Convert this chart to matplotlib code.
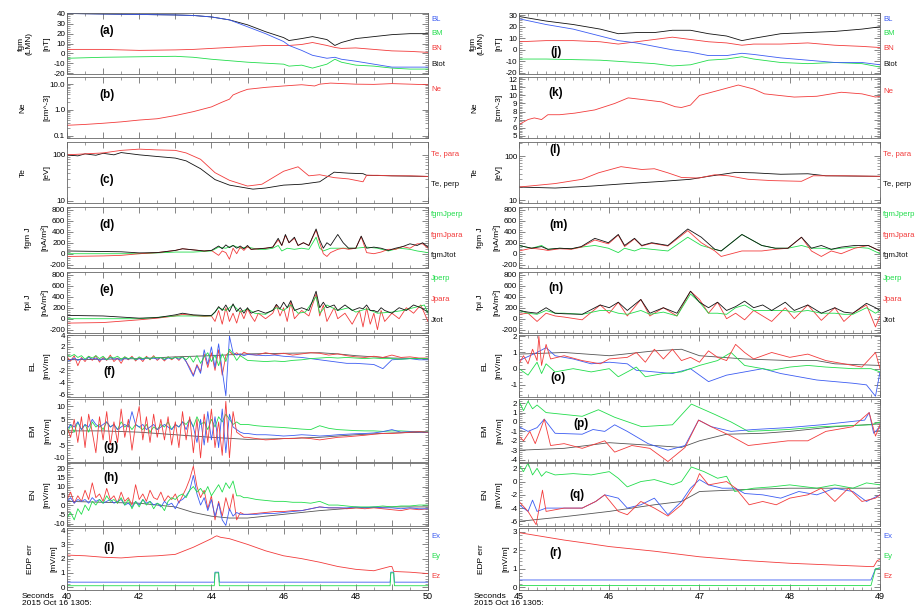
import numpy as np
import matplotlib
matplotlib.use('Agg')
import matplotlib.pyplot as plt
from matplotlib.ticker import MultipleLocator, AutoMinorLocator, NullFormatter, FuncFormatter

plt.rcParams['font.family'] = ['Liberation Sans', 'DejaVu Sans']

BLUE, GREEN, RED, BLACK = '#3c5cf2', '#22dd4c', '#f23b3b', '#111111'

# ---------------- left column: 13:05:40 - 13:05:50 ----------------
a_t = [40, 41, 42, 43, 43.5, 44, 44.5, 45, 45.5, 46, 46.15, 46.5, 46.8, 47.2, 47.42, 47.6, 48, 48.5, 49, 49.5, 50]
a_BL = [40.5, 40, 39.5, 39, 38.5, 37, 34, 27, 20, 12, 8, 3, -2, -5, -4, -6, -8, -11, -14, -14, -14]
a_BM = [-5, -4, -3.5, -3, -4, -6, -7.5, -9, -10, -11, -13, -12, -15, -11, -6, -9, -12, -13, -15, -16, -16]
a_BN = [4, 4, 3, 3.5, 4, 5, 6, 7, 8, 8, 8, 9, 11, 8, 6, 5, 5.5, 4, 2.5, 2, 1]
a_Bt = [40.5, 40, 39.5, 39, 38.5, 37, 34, 29, 22, 16, 13, 15, 17, 14, 8, 11, 15, 17, 19, 20, 20]

b_t = [40, 40.5, 41, 41.5, 42, 42.5, 43, 43.5, 44, 44.3, 44.5, 44.6, 44.8, 45, 45.5, 46, 46.5, 46.86, 47.0, 47.3, 48, 48.5, 49, 49.5, 50]
b_Ne = [0.25, 0.27, 0.3, 0.34, 0.4, 0.45, 0.6, 0.85, 1.3, 2.0, 2.6, 3.8, 5.0, 6.3, 7.5, 8.5, 9.5, 8.5, 10.0, 11.0, 10.0, 9.8, 10.5, 10.0, 9.5]

c_tpa = [40, 40.5, 41, 41.5, 42, 42.5, 43, 43.3, 43.7, 44.1, 44.5, 45, 45.4, 46, 46.4, 46.7, 47, 47.4, 47.8, 48.2, 48.3, 48.6, 49, 49.5, 50]
c_para = [100, 105, 110, 125, 133, 128, 125, 110, 80, 41, 28, 21, 23, 44, 55, 35, 37, 32, 30, 26, 36, 36, 35, 35, 34]
c_tpe = [40, 40.3, 40.5, 40.8, 41, 41.3, 41.5, 42, 42.5, 43, 43.3, 43.7, 44.1, 44.5, 45.15, 45.5, 46, 46.5, 47, 47.4, 47.8, 48.2, 48.3, 49, 50]
c_perp = [100, 95, 105, 98, 108, 100, 112, 100, 92, 85, 74, 50, 29, 22, 18, 19, 22, 23, 26, 42, 40, 39, 36, 35, 34]

d_t = [40, 40.5, 41, 41.5, 42, 42.5, 43, 43.2, 43.5, 43.8, 44, 44.2, 44.3, 44.4, 44.5, 44.6, 44.7, 44.8, 44.9, 45,
       45.1, 45.3, 45.5, 45.7, 45.85, 45.95, 46.05, 46.15, 46.3, 46.4, 46.55, 46.7, 46.9, 47.0, 47.1, 47.2, 47.3, 47.5,
       47.65, 47.8, 48.0, 48.15, 48.3, 48.5, 48.7, 48.9, 49.1, 49.3, 49.5, 49.7, 49.85, 50]
d_tot = [50, 45, 40, 35, 15, 20, 60, 90, 70, 50, 60, 140, 90, 160, 110, 150, 100, 140, 90, 150,
         80, 90, 100, 120, 280, 150, 350, 200, 300, 150, 200, 150, 450, 250, 100, 200, 150, 350,
         200, 100, 100, 320, 100, 120, 100, 60, 100, 130, 180, 150, 200, 120]
d_para = [-50, -45, -40, -30, 0, 20, 60, 90, 70, 50, 60, -30, 50, 20, -100, 100, 0, 120, 60, 130,
          80, 90, 100, 120, 250, 150, 330, 200, 280, 150, 200, 150, 430, 200, 0, -50, 20, 80,
          100, 80, 100, 310, 20, 0, 30, 80, 80, 130, 100, 180, 180, 100]
d_tpe = [40, 41, 42, 43, 43.5, 44, 44.2, 44.4, 44.6, 44.8, 45, 45.3, 45.5, 45.7, 45.85, 45.95, 46.1, 46.3, 46.5, 46.7,
         46.9, 47.0, 47.1, 47.3, 47.5, 47.8, 48.0, 48.3, 48.6, 48.9, 49.2, 49.5, 49.7, 50]
d_perp = [0, 0, 0, 30, 30, 50, 120, 100, 150, 100, 120, 80, 80, 100, 150, 50, 100, 80, 100, 80,
          300, 100, 50, 100, 100, 100, 100, 120, 100, 50, 100, 80, 50, 20]

e_t = [40, 41, 42, 42.5, 43, 43.2, 43.5, 43.8, 44, 44.1, 44.2, 44.3, 44.4, 44.5, 44.6, 44.7, 44.8, 44.9, 45.0, 45.1,
       45.2, 45.3, 45.5, 45.7, 45.8, 45.9, 46.0, 46.1, 46.2, 46.3, 46.5, 46.7, 46.9, 47.0, 47.1, 47.2, 47.4, 47.5,
       47.7, 47.9, 48.1, 48.2, 48.3, 48.4, 48.5, 48.6, 48.7, 48.8, 49.0, 49.2, 49.4, 49.6, 49.8, 50]
e_tot = [60, 50, 10, 20, 70, 100, 70, 60, 60, 120, 220, 150, 250, 130, 270, 130, 200, 100, 200, 100,
         130, 150, 100, 150, 260, 180, 300, 200, 330, 150, 200, 150, 500, 200, 300, 200, 250, 150,
         250, 150, 200, 180, 250, 150, 150, 120, 200, 150, 100, 200, 150, 250, 200, 120]
e_para = [-80, -70, -20, 10, 50, 80, 60, 40, 50, -50, 150, -100, 200, -50, 100, -80, 150, 0, 180, 50,
          -50, 100, 0, 100, 250, 50, 200, -50, 300, 0, 150, 50, 450, 50, 250, -50, 200, 0,
          100, -100, 150, -150, 200, -100, 100, -200, 150, -50, 100, 0, 200, 100, 250, -50]
e_tpe = [40, 41, 42, 43, 43.5, 44, 44.2, 44.4, 44.6, 44.8, 45.0, 45.2, 45.5, 45.8, 46.0, 46.2, 46.4, 46.6, 46.9, 47.0,
         47.2, 47.5, 47.8, 48.0, 48.3, 48.6, 49.0, 49.3, 49.6, 49.9, 50]
e_perp = [0, 0, 0, 50, 50, 50, 200, 150, 250, 120, 180, 100, 80, 200, 150, 250, 100, 120, 400, 100,
          250, 150, 200, 120, 180, 100, 120, 150, 200, 250, 100]

# fast grid 40.0-44.9 (0.1 s) then 45-50 (0.25 s)
fgh_t = np.concatenate([np.linspace(40, 44.9, 50), np.linspace(45, 50, 21)])
f_red = [0.3, -0.4, 0.5, -1.2, 0.2, -0.5, 0.4, -0.3, 0.5, -0.6,
         0.2, -0.3, 0.6, -0.5, 0.1, -0.8, 0.3, -0.2, 0.4, -0.4,
         0.2, -0.5, 0.4, -0.2, 0.5, -0.3, 0.2, -0.4, 0.3, -0.2,
         0.3, -0.3, 0.4, -0.5, -1.5, -2.8, -1.0, -2.2, 0.8, -1.5,
         1.0, -2.0, 1.5, -2.8, 0.5, 1.2, 0.6, 1.0, 0.5, 1.1,
         0.8, 0.6, 1.0, 0.7, 0.9, 0.6, 0.8, 1.0, 0.9, 0.6, 0.8, 0.5, 0.3, 0.2, 0.4, 0.2, 0.6, 0.2, 0.3, 0.1, 0.1]
f_blue = [-0.5, -0.2, 0.1, -0.3, 0.0, -0.2, 0.2, -0.1, 0.1, -0.3,
          0.0, -0.2, 0.2, -0.1, 0.0, -0.3, 0.1, -0.1, 0.2, -0.2,
          0.0, -0.2, 0.2, 0.0, 0.1, -0.1, 0.2, -0.2, 0.1, 0.0,
          0.2, -0.1, 0.3, -0.5, -1.8, -3.0, -1.2, -2.5, 1.5, -1.0,
          2.0, -1.5, 2.5, -2.0, -6.3, 3.8, 1.0, 0.6, 0.8, 0.5,
          0.7, 0.6, 0.5, 0.6, 0.4, 0.3, 0.2, 0.0, -0.2, -0.4, -0.6, -0.8, -0.8, -0.9, -1.0, -1.7, -0.2, -0.1, 0.0, -0.2, -0.2]
f_green = [0.6, 0.4, 0.7, 0.2, 0.5, -0.1, 0.4, 0.1, 0.5, 0.0,
           0.4, -0.2, 0.3, 0.1, 0.4, -0.1, 0.3, 0.0, 0.2, -0.2,
           0.3, 0.0, 0.2, -0.1, 0.3, 0.1, 0.2, -0.1, 0.3, 0.0,
           0.2, 0.1, 0.3, -0.2, 0.4, -0.6, 0.5, -0.8, 0.3, 1.0,
           -0.5, 0.6, -1.2, 0.8, -0.5, 1.6, 0.8, -0.3, 0.5, 0.1,
           -0.3, -0.4, -0.5, -0.4, -0.5, -0.3, -0.2, 0.0, 0.1, 0.2, 0.1, 0.2, 0.1, 0.0, 0.1, 0.0, 0.0, -0.1, 0.0, 0.0, 0.0]
f_tk = [40, 41, 42, 43, 44, 45, 46, 47, 47.5, 48, 49, 50]
f_black = [-0.2, -0.1, 0.0, 0.3, 0.5, 0.8, 0.9, 1.0, 0.8, 0.5, 0.1, 0.0]

g_red = [2, -2, 5, -4, 6, -6, 7, 0, -8, 6,
         -3, 8, -5, 4, -4, 9, -2, 5, -7, 3,
         10, -3, 6, -4, 7, -2, 5, -3, 6, -5,
         4, -6, 8, -3, 6, -8, 5, -10, 7, -4,
         9, -6, 4, -9, 12, -10, 8, 0, -1, -2,
         -2, -2.5, -3, -2.8, -2.5, -2.5, -2.2, -2.5, -3, -2.5, -2.0, -1.8, -1.5, -1.2, -0.8, -0.5, -0.5, -0.3, 0, 0.2, 0]
g_blue = [1, 3, 2, 4, 1, 3, 2, 5, 3, 2,
          3, 4, 2, 3, 1, 2, 3, 2, 8, 3,
          2, 3, 1, 2, 3, 1, 2, 3, 2, 1,
          3, 2, 4, 1, 5, 2, -4, 5, -5, 8,
          -3, 6, -6, 9, -8, 7, 2, 1, 0, -0.5,
          -0.5, -1, -1, -1.2, -1.5, -1.3, -1.0, -1.2, -1.5, -1.3, -1.0, -0.8, -0.6, -0.5, -0.3, 0.2, 1.0, 0.0, 0.2, 0.1, 0]
g_green = [-1, 3, 0, 4, 1, 3, 0, 4, 2, 3,
           1, 4, 2, 3, 1, 4, 2, 3, 1, 3,
           2, 1, 3, 0, 2, 1, 3, 2, 4, 1,
           3, 2, 4, 3, 5, 2, 6, 3, 4, 1,
           5, 2, 6, 4, 7, 5, 3, 4, 3, 3,
           3, 2.5, 2.2, 2.0, 1.8, 1.5, 1.2, 1.0, 2.5, 1.5, 1.0, 0.8, 0.6, 0.5, 0.5, 0.3, 0.5, 0.5, 0.3, 0.3, 0.2]
g_tk = [40, 41, 42, 43, 44, 45, 46, 47, 48, 49, 50]
g_black = [0.5, 0.5, 0, -1, -2, -2.8, -2.5, -2.0, -1.0, -0.3, 0]

h_red = [3, 7, 1, 5, 2, 8, 3, 12, 4, 6,
         2, 9, 3, 5, 1, 7, 2, 4, 0, 11,
         3, 6, 2, 8, 4, 3, 7, 2, 5, 3,
         6, 1, 5, 9, 14, 21, 10, 4, 8, -2,
         5, -8, 2, -6, 4, -3, 6, -8, -4, -5,
         -5, -4.5, -4, -3.5, -3.5, -3, -3, -2, -1, -1.5, -1.5, -2, -1.5, -2, -1.5, -2, -2.5, -3, -2, -2.5, -2]
h_blue = [2, 4, 1, 3, 2, 3, 1, 4, 2, 3,
          1, 2, 3, 1, 2, 3, 0, 1, -1, 2,
          0, 3, 1, 2, 0, 1, -1, 2, 0, 1,
          -2, 2, 3, 5, 8, 16, 6, 0, 4, -3,
          3, -6, 1, -8, -11, -2, -6, -4, -5, -5,
          -5, -5, -4.5, -4.5, -4, -3.5, -3, -2, -1, -1.5, -1.5, -1.5, -1, -1.5, -1, -1.5, -1.5, -2, -1.5, -2, -2]
h_green = [-7, -4, -8, -2, -5, 0, -3, 2, 0, 3,
           1, 5, 2, 3, 1, 4, 0, 3, -2, 2,
           -1, 3, 0, 2, -2, 1, 0, -3, 2, 4,
           3, 5, 6, 4, 8, 10, 7, 9, 6, 10,
           5, 8, 11, 7, 12, 9, 13, 5, 5, 4,
           4, 3, 2.5, 2, 2, 1.5, 1.5, 1, 2, 0, 0, -0.5, -1, -1, -1, -0.5, -1, -0.5, -0.5, 0, 0]
h_tk = [40, 41, 42, 42.5, 43, 43.5, 44, 44.5, 45, 46, 47, 48, 49, 50]
h_black = [2, 1.5, 1, 0, -1, -4, -6, -7, -7, -5, -3, -1.5, -1, -1]

i_t = [40, 40.5, 41, 41.5, 42, 42.5, 43, 43.5, 44, 44.1, 44.15, 44.25, 44.5, 45, 45.5, 46, 46.5, 47, 47.5, 48, 48.5,
       48.95, 49.0, 49.05, 49.5, 50]
i_Ez = [2.25, 2.2, 2.1, 2.05, 2.15, 2.2, 2.3, 2.8, 3.4, 3.55, 3.6, 3.5, 3.4, 3.0, 2.55, 2.2, 2.0, 1.75, 1.45, 1.25,
        1.15, 1.45, 1.45, 1.1, 1.05, 0.95]
i_tp = [40, 44.08, 44.1, 44.2, 44.22, 48.95, 48.97, 49.05, 49.07, 50]
i_Ex = [0.35, 0.35, 1.05, 1.05, 0.35, 0.35, 1.05, 1.05, 0.35, 0.35]
i_Ey = [0.1, 0.1, 1.0, 1.0, 0.1, 0.1, 1.0, 1.0, 0.1, 0.1]

# ---------------- right column: 13:05:45 - 13:05:49 ----------------
j_t = [45, 45.3, 45.6, 45.9, 46.1, 46.3, 46.5, 46.7, 46.9, 47.1, 47.3, 47.47, 47.6, 47.9, 48.2, 48.5, 48.8, 49]
j_BL = [27, 22, 18, 12, 8, 6, 3, 0, -2, -5, -5, -3, -4, -7, -9, -11, -11, -13]
j_BM = [-8, -8, -8.5, -9, -10, -11, -12, -14, -13, -9, -8, -6, -8, -11, -12, -11, -12, -15]
j_BN = [7, 8, 8, 7, 5, 7, 9, 11, 9, 7, 6, 4, 5, 5, 6, 4, 3, 2]
j_Bt = [29, 25, 22, 18, 14, 15, 15, 17, 17, 14, 12, 8, 10, 14, 15, 16, 18, 20]

k_t = [45, 45.02, 45.1, 45.17, 45.25, 45.32, 45.45, 45.62, 45.84, 46.06, 46.21, 46.36, 46.58, 46.73, 46.8, 46.9, 47.0,
       47.2, 47.43, 47.6, 47.72, 48.05, 48.3, 48.57, 48.8, 48.95, 49]
k_Ne = [6.3, 6.5, 7.0, 7.2, 7.0, 7.6, 7.6, 7.8, 8.2, 9.0, 9.7, 9.5, 9.2, 8.6, 8.5, 8.8, 10.0,
        10.6, 11.3, 10.8, 10.2, 9.8, 9.9, 10.4, 10.2, 9.8, 9.9]

l_tpa = [45, 45.4, 45.7, 45.88, 46.13, 46.36, 46.5, 46.65, 46.8, 46.99, 47.17, 47.32, 47.54, 47.8, 48.13, 48.26, 48.6, 49]
l_para = [20, 24, 30, 42, 58, 50, 52, 42, 33, 32, 38, 36, 30, 28, 27, 36, 36, 35]
l_tpe = [45, 45.4, 45.8, 46.2, 46.6, 46.9, 47.1, 47.4, 47.6, 47.9, 48.2, 48.4, 49]
l_perp = [20, 19, 21, 24, 27, 30, 35, 43, 42, 39, 40, 36, 35]

m_t = [45, 45.14, 45.25, 45.32, 45.45, 45.58, 45.69, 45.84, 45.99, 46.1, 46.17, 46.28, 46.36, 46.47, 46.65, 46.87,
       47.02, 47.17, 47.24, 47.47, 47.69, 47.84, 47.98, 48.13, 48.24, 48.35, 48.46, 48.57, 48.72, 48.87, 49]
m_tot = [150, 100, 130, 80, 100, 90, 130, 280, 200, 350, 150, 280, 150, 200, 150, 450,
         300, 80, 50, 350, 150, 100, 100, 300, 100, 150, 80, 120, 150, 150, 50]
m_para = [50, 100, 80, 60, 90, 80, 120, 250, 180, 340, 130, 270, 140, 190, 140, 420,
          200, 50, -50, 50, 50, 80, 100, 300, 50, -50, 50, 0, 100, 150, 50]
m_perp = [150, 100, 150, 80, 100, 90, 120, 150, 100, 20, 100, 50, 100, 80, 50, 300,
          150, 80, 50, 350, 150, 100, 100, 150, 100, 100, 80, 100, 120, 100, 0]

n_t = [45, 45.1, 45.2, 45.3, 45.4, 45.5, 45.7, 45.9, 46.0, 46.1, 46.2, 46.35, 46.45, 46.6, 46.75, 46.9, 47.0, 47.1,
       47.2, 47.3, 47.4, 47.5, 47.6, 47.7, 47.8, 47.95, 48.05, 48.2, 48.35, 48.5, 48.6, 48.7, 48.85, 48.95, 49]
n_tot = [150, 120, 100, 200, 100, 90, 80, 250, 200, 300, 150, 350, 100, 200, 100, 500, 300, 200,
         300, 150, 220, 320, 200, 250, 150, 300, 150, 250, 100, 200, 120, 100, 280, 200, 150]
n_para = [80, 100, -50, 100, 50, 30, -20, 250, 100, 300, 50, 350, 50, 200, 50, 500, 350, 100,
          300, 0, 100, -20, 150, 50, -50, 200, 0, 250, -30, 200, -50, 100, 250, -150, 50]
n_perp = [150, 100, 80, 150, 100, 100, 80, 150, 150, 100, 80, 150, 80, 120, 50, 450, 300, 100,
          100, 80, 200, 250, 150, 150, 150, 150, 120, 150, 100, 100, 80, 80, 200, 100, 150]

o_tb = [45, 45.2, 45.3, 45.4, 45.6, 45.8, 46, 46.2, 46.3, 46.5, 46.7, 46.9, 47.1, 47.3, 47.5, 47.7, 47.9, 48.1, 48.3,
        48.5, 48.7, 48.85, 48.95, 49]
o_blue = [0.5, 1.0, 1.3, 0.8, 0.6, 0.3, 0.4, 0.3, -0.1, -0.2, -0.3, 0.0, -0.8, -0.4, -0.2, 0.0, -0.3, -0.5, -0.7,
          -0.8, -0.9, -1.0, -1.7, -0.2]
o_tr = [45, 45.05, 45.1, 45.15, 45.2, 45.22, 45.25, 45.3, 45.35, 45.5, 45.7, 45.9, 46.0, 46.2, 46.3, 46.4, 46.5, 46.6,
        46.7, 46.8, 46.9, 47.0, 47.1, 47.2, 47.3, 47.4, 47.5, 47.6, 47.8, 48, 48.2, 48.4, 48.6, 48.8, 48.95, 49]
o_red = [0.3, 0.8, 0.3, 1.2, 0.5, 2.0, 0.2, 1.5, 0.6, 0.8, 0.5, 0.3, 0.6, 0.7, 1.0, 0.4, 1.2, 0.6,
         1.2, 0.5, 0.7, 0.4, 1.1, 0.7, 0.5, 1.5, 1.0, 0.6, 1.0, 0.7, 0.9, 0.5, 0.3, 0.1, 1.0, 0.0]
o_tg = [45, 45.1, 45.2, 45.25, 45.3, 45.4, 45.6, 45.8, 46, 46.1, 46.3, 46.4, 46.6, 46.8, 47.0, 47.2, 47.35, 47.5,
        47.8, 48, 48.2, 48.4, 48.7, 48.9, 49]
o_green = [0.0, -0.4, 0.4, -0.3, 0.3, -0.2, 0.0, -0.2, 0.0, -0.5, 0.1, -0.5, -0.3, -0.2, 0.2, 0.5, 1.0, 0.2,
           -0.1, 0.1, 0.2, 0.1, 0.0, 0.0, -0.2]
o_tk = [45, 45.5, 46, 46.5, 46.8, 47, 47.5, 48, 48.3, 48.5, 49]
o_black = [0.9, 1.0, 0.8, 1.1, 1.2, 0.8, 0.6, 0.5, 0.5, 0.3, 0.2]

p_tg = [45, 45.05, 45.1, 45.15, 45.2, 45.3, 45.5, 45.7, 45.88, 46.06, 46.36, 46.7, 46.91, 47.17, 47.35, 47.54, 47.98,
        48.35, 48.9, 49]
p_green = [2.2, 1.2, 2.2, 1.4, 1.8, 1.0, 0.8, 0.6, 1.3, 0.5, -0.5, -0.3, 1.9, 0.8, 0.0, -1.0, -0.8, -0.5, -0.3, 0.0]
p_tb = [45, 45.1, 45.2, 45.28, 45.4, 45.7, 45.82, 45.95, 46.06, 46.2, 46.43, 46.65, 46.84, 46.99, 47.13, 47.35, 47.6,
        47.98, 48.35, 48.83, 48.88, 48.93, 49]
p_blue = [-0.5, -1.0, -0.6, 0.3, -1.2, -1.3, -0.8, -1.0, -0.3, -1.0, -2.3, -3.0, -2.5, 0.2, -0.5, -1.0, -0.8,
          -0.6, -0.3, 0.2, 1.0, -1.2, -0.5]
p_tr = [45, 45.05, 45.12, 45.18, 45.28, 45.35, 45.5, 45.7, 45.95, 46.06, 46.25, 46.45, 46.65, 46.84, 46.99, 47.13,
        47.35, 47.54, 47.98, 48.2, 48.4, 48.7, 48.88, 48.95, 49]
p_red = [-1.5, -2.0, -1.0, -2.3, 0.3, -2.5, -2.3, -2.8, -2.0, -3.2, -2.5, -2.8, -4.2, -2.7, 0.2, -0.5,
         -1.5, -2.5, -2.0, -2.0, -1.0, -0.5, 1.0, -1.5, -0.3]
p_tk = [45, 45.5, 46, 46.5, 46.8, 47.0, 47.3, 47.7, 48, 48.5, 49]
p_black = [-3.0, -2.8, -2.2, -2.5, -2.7, -2.0, -1.3, -1.2, -1.0, -0.5, -0.2]

q_tg = [45, 45.05, 45.1, 45.15, 45.2, 45.25, 45.3, 45.4, 45.6, 45.8, 46.0, 46.1, 46.2, 46.35, 46.5, 46.7, 46.8,
        46.91, 47.05, 47.2, 47.3, 47.39, 47.6, 47.8, 48.0, 48.3, 48.5, 48.7, 48.85, 49]
q_green = [2.5, 1.5, 2.8, 1.0, 2.0, 0.8, 1.5, 1.0, 1.2, 1.0, 1.5, 0.5, -0.8, 0.0, 0.3, -0.5, 0.0,
           2.2, 1.5, 0.5, 0.8, -1.5, -1.0, -0.8, -0.5, -1.0, -0.5, -1.0, -0.2, -0.5]
q_tb = [45, 45.1, 45.15, 45.2, 45.3, 45.5, 45.7, 45.85, 45.95, 46.1, 46.2, 46.35, 46.5, 46.65, 46.8, 46.9, 47.0,
        47.1, 47.25, 47.4, 47.5, 47.7, 47.9, 48.1, 48.3, 48.5, 48.7, 48.85, 49]
q_blue = [-3.5, -4.5, -2.8, -4.5, -4.0, -4.0, -4.0, -3.0, -2.0, -2.5, -4.0, -3.5, -2.5, -5.0, -3.0, -1.0, 0.3,
          -0.5, -1.0, -1.0, -1.8, -2.0, -2.5, -1.5, -2.0, -1.0, -1.5, -3.0, -2.0]
q_tr = [45, 45.1, 45.19, 45.26, 45.3, 45.5, 45.7, 45.85, 45.95, 46.1, 46.2, 46.35, 46.5, 46.65, 46.8, 46.95, 47.0,
        47.1, 47.3, 47.4, 47.55, 47.7, 47.85, 48.0, 48.2, 48.35, 48.5, 48.65, 48.8, 48.95, 49]
q_red = [-3.0, -4.5, -6.5, -1.3, -4.5, -4.0, -4.0, -3.0, -2.0, -4.5, -5.0, -3.0, -4.0, -5.2, -3.5, -0.5, 1.2,
         -0.5, 0.0, -1.0, -3.5, -3.0, -3.5, -2.5, -2.0, -1.0, -3.0, -1.0, -3.0, -2.5, -2.0]
q_tk = [45, 45.5, 46, 46.5, 46.8, 47.0, 47.5, 48, 48.5, 49]
q_black = [-6.0, -5.3, -4.5, -3.5, -3.0, -1.5, -1.2, -1.0, -1.0, -1.0]

r_t = [45, 45.25, 45.5, 45.75, 46, 46.5, 47, 47.5, 48, 48.5, 48.9, 48.93, 48.97, 49]
r_Ez = [2.95, 2.75, 2.55, 2.38, 2.2, 1.95, 1.65, 1.45, 1.3, 1.2, 1.12, 1.12, 1.45, 1.5]
r_tp = [45, 48.9, 48.95, 49]
r_Ex = [0.4, 0.4, 1.0, 1.05]
r_Ey = [0.1, 0.1, 1.0, 1.05]

# ---------------- figure ----------------
W, H = 915, 609
fig = plt.figure(figsize=(W / 100, H / 100), dpi=100)
tops = [13, 77, 142, 207, 272, 335, 399, 463, 528]
bots = [74, 138, 203, 268, 333, 397, 462, 526, 590]


def column(x0, x1):
    return [fig.add_axes([x0 / W, 1 - b / H, (x1 - x0) / W, (b - t) / H]) for t, b in zip(tops, bots)]


L = column(67, 428)
R = column(519, 880)


def style(ax, xlim, minor_x, last, ylim, ystep=None, logticks=None):
    ax.set_xlim(*xlim)
    ax.set_ylim(*ylim)
    ax.xaxis.set_major_locator(MultipleLocator(1))
    ax.xaxis.set_minor_locator(MultipleLocator(minor_x))
    if logticks is not None:
        ax.set_yscale('log')
        ax.set_ylim(*ylim)
        ax.set_yticks([v for v, _ in logticks])
        ax.set_yticklabels([s for _, s in logticks])
        ax.yaxis.set_minor_formatter(NullFormatter())
    else:
        ax.yaxis.set_major_locator(MultipleLocator(ystep))
        ax.yaxis.set_minor_locator(AutoMinorLocator(5))
        ax.yaxis.set_major_formatter(FuncFormatter(lambda v, p: '%g' % v))
    ax.tick_params(which='both', direction='in', top=True, right=True, labelsize=5.8,
                   color='#555555', pad=1.2)
    ax.tick_params(which='major', length=4, width=0.5)
    ax.tick_params(which='minor', length=2, width=0.4)
    if last:
        step = 2 if xlim[1] - xlim[0] > 5 else 1
        ax.xaxis.set_major_formatter(FuncFormatter(
            lambda v, p: '%d' % round(v) if round(v) % step == 0 else ''))
        ax.tick_params(axis='x', labelsize=6.5, pad=1.5)
    else:
        ax.tick_params(labelbottom=False)
    for s in ax.spines.values():
        s.set_color('#666666')
        s.set_linewidth(0.6)


def line(ax, t, v, c, lw=0.6):
    ax.plot(t, v, color=c, lw=lw)


def side(ax, items):
    for lab, c, y in items:
        ax.text(1.008, y, lab, color=c, transform=ax.transAxes, fontsize=5.6, va='center', ha='left')


def letter(ax, s, x, y):
    ax.text(x, y, s, transform=ax.transAxes, fontsize=8.5, fontweight='bold', va='center', ha='left')


def ylab(ax, outer, inner, xo, xi):
    pos = ax.get_position()
    yc = pos.y0 + pos.height / 2
    fig.text(xo / W, yc, outer, rotation=90, ha='center', va='center', fontsize=6, multialignment='center')
    fig.text(xi / W, yc, inner, rotation=90, ha='center', va='center', fontsize=6)


bnames = [('BL', BLUE, 0.9), ('BM', GREEN, 0.66), ('BN', RED, 0.41), ('Btot', BLACK, 0.15)]
tnames = [('Te, para', RED, 0.79), ('Te, perp', BLACK, 0.3)]
fgmJ = [('fgmJperp', GREEN, 0.87), ('fgmJpara', RED, 0.53), ('fgmJtot', BLACK, 0.2)]
fpiJ = [('Jperp', GREEN, 0.89), ('Jpara', RED, 0.55), ('Jtot', BLACK, 0.21)]
enames = [('Ex', BLUE, 0.87), ('Ey', GREEN, 0.54), ('Ez', RED, 0.21)]

# left column
ax = L[0]
line(ax, a_t, a_Bt, BLACK); line(ax, a_t, a_BN, RED); line(ax, a_t, a_BM, GREEN); line(ax, a_t, a_BL, BLUE)
style(ax, (40, 50), 0.5, False, (-21, 41), 10)
side(ax, bnames); letter(ax, '(a)', 0.09, 0.7)

ax = L[1]
line(ax, b_t, b_Ne, RED)
style(ax, (40, 50), 0.5, False, (0.08, 19), logticks=[(0.1, '0.1'), (1, '1.0'), (10, '10.0')])
side(ax, [('Ne', RED, 0.79)]); letter(ax, '(b)', 0.09, 0.7)

ax = L[2]
line(ax, c_tpe, c_perp, BLACK); line(ax, c_tpa, c_para, RED)
style(ax, (40, 50), 0.5, False, (9, 190), logticks=[(10, '10'), (100, '100')])
side(ax, tnames); letter(ax, '(c)', 0.09, 0.38)

ax = L[3]
line(ax, d_tpe, d_perp, GREEN); line(ax, d_t, d_para, RED); line(ax, d_t, d_tot, BLACK)
style(ax, (40, 50), 0.5, False, (-260, 850), 200)
side(ax, fgmJ); letter(ax, '(d)', 0.09, 0.7)

ax = L[4]
line(ax, e_t, e_para, RED); line(ax, e_tpe, e_perp, GREEN); line(ax, e_t, e_tot, BLACK)
style(ax, (40, 50), 0.5, False, (-260, 850), 200)
side(ax, fpiJ); letter(ax, '(e)', 0.09, 0.7)

ax = L[5]
line(ax, f_tk, f_black, '#555555'); line(ax, fgh_t, f_red, RED); line(ax, fgh_t, f_blue, BLUE)
line(ax, fgh_t, f_green, GREEN)
style(ax, (40, 50), 0.5, False, (-6.5, 4), 2)
letter(ax, '(f)', 0.1, 0.4)

ax = L[6]
line(ax, g_tk, g_black, '#555555'); line(ax, fgh_t, g_green, GREEN); line(ax, fgh_t, g_blue, BLUE)
line(ax, fgh_t, g_red, RED)
style(ax, (40, 50), 0.5, False, (-11.6, 12.9), 5)
letter(ax, '(g)', 0.1, 0.24)

ax = L[7]
line(ax, h_tk, h_black, '#555555'); line(ax, fgh_t, h_red, RED); line(ax, fgh_t, h_blue, BLUE)
line(ax, fgh_t, h_green, GREEN)
style(ax, (40, 50), 0.5, False, (-11.3, 22.7), 5)
letter(ax, '(h)', 0.1, 0.76)

ax = L[8]
line(ax, i_t, i_Ez, RED); line(ax, i_tp, i_Ex, BLUE); line(ax, i_tp, i_Ey, GREEN)
style(ax, (40, 50), 0.5, True, (-0.2, 4.15), 1)
side(ax, enames); letter(ax, '(i)', 0.1, 0.68)

# right column
ax = R[0]
line(ax, j_t, j_Bt, BLACK); line(ax, j_t, j_BN, RED); line(ax, j_t, j_BM, GREEN); line(ax, j_t, j_BL, BLUE)
style(ax, (45, 49), 0.1, False, (-21, 32), 10)
side(ax, bnames); letter(ax, '(j)', 0.086, 0.36)

ax = R[1]
line(ax, k_t, k_Ne, RED)
style(ax, (45, 49), 0.1, False, (4.7, 12.3), 1)
side(ax, [('Ne', RED, 0.77)]); letter(ax, '(k)', 0.08, 0.74)

ax = R[2]
line(ax, l_tpe, l_perp, BLACK); line(ax, l_tpa, l_para, RED)
style(ax, (45, 49), 0.1, False, (8.7, 210), logticks=[(10, '10'), (100, '100')])
side(ax, tnames); letter(ax, '(l)', 0.085, 0.87)

ax = R[3]
line(ax, m_t, m_perp, GREEN); line(ax, m_t, m_para, RED); line(ax, m_t, m_tot, BLACK)
style(ax, (45, 49), 0.1, False, (-260, 850), 200)
side(ax, fgmJ); letter(ax, '(m)', 0.085, 0.7)

ax = R[4]
line(ax, n_t, n_para, RED); line(ax, n_t, n_perp, GREEN); line(ax, n_t, n_tot, BLACK)
style(ax, (45, 49), 0.1, False, (-260, 850), 200)
side(ax, fpiJ); letter(ax, '(n)', 0.082, 0.73)

ax = R[5]
line(ax, o_tk, o_black, '#555555'); line(ax, o_tb, o_blue, BLUE); line(ax, o_tg, o_green, GREEN)
line(ax, o_tr, o_red, RED)
style(ax, (45, 49), 0.1, False, (-1.75, 2.08), 1)
letter(ax, '(o)', 0.086, 0.31)

ax = R[6]
line(ax, p_tk, p_black, '#555555'); line(ax, p_tg, p_green, GREEN); line(ax, p_tb, p_blue, BLUE)
line(ax, p_tr, p_red, RED)
style(ax, (45, 49), 0.1, False, (-4.25, 2.44), 1)
letter(ax, '(p)', 0.15, 0.6)

ax = R[7]
line(ax, q_tk, q_black, '#555555'); line(ax, q_tg, q_green, GREEN); line(ax, q_tb, q_blue, BLUE)
line(ax, q_tr, q_red, RED)
style(ax, (45, 49), 0.1, False, (-6.7, 2.8), 2)
letter(ax, '(q)', 0.14, 0.5)

ax = R[8]
line(ax, r_t, r_Ez, RED); line(ax, r_tp, r_Ex, BLUE); line(ax, r_tp, r_Ey, GREEN)
style(ax, (45, 49), 0.1, True, (-0.14, 3.2), 1)
side(ax, enames); letter(ax, '(r)', 0.085, 0.6)

# y labels (outer name, inner unit)
names = [('fgm\n(LMN)', '[nT]', 25, 47), ('Ne', '[cm^-3]', 23, 47), ('Te', '[eV]', 23, 47),
         ('fgm J', '[nA/m²]', 28, 45), ('fpi J', '[nA/m²]', 28, 45), ('EL', '[mV/m]', 33, 47),
         ('EM', '[mV/m]', 33, 48), ('EN', '[mV/m]', 33, 47), ('EDP err', '[mV/m]', 30, 54)]
for axl, axr, (o, i, xo, xi) in zip(L, R, names):
    ylab(axl, o, i, xo, xi)
    ylab(axr, o, i, xo + 452, xi + 452)

for x in (22, 474):
    fig.text(x / W, 1 - 596 / H, 'Seconds', fontsize=6, va='center', ha='left')
    fig.text(x / W, 1 - 603.5 / H, '2015 Oct 16 1305:', fontsize=6, va='center', ha='left')

fig.savefig('out.png', dpi=100)
